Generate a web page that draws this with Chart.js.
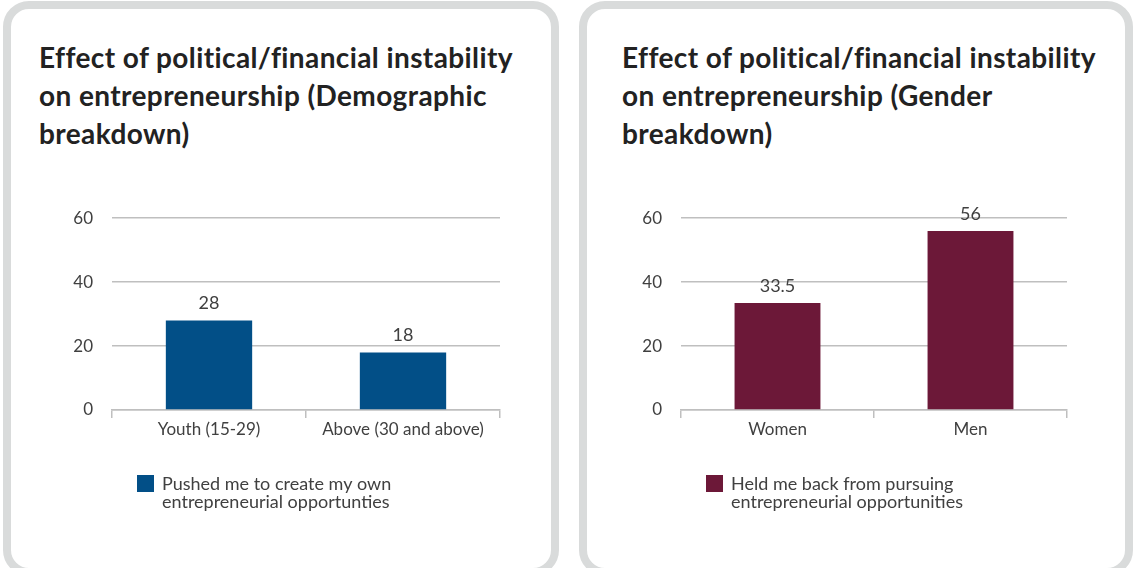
<!DOCTYPE html>
<html>
<head>
<meta charset="utf-8">
<script src="https://cdn.jsdelivr.net/npm/chart.js@4.4.1/dist/chart.umd.min.js"></script>
<style>
  html, body { margin: 0; padding: 0; background: #fff; }
  body { width: 1135px; height: 568px; position: relative; overflow: hidden; font-family: Lato, "Open Sans", sans-serif; }
  .panel {
    position: absolute; top: 1px; height: 575px; box-sizing: border-box;
    border: 8px solid #d9dbdb; border-radius: 26px; background: #fff;
  }
  .panel h2 {
    position: absolute; margin: 0; top: 29px;
    font-size: 28px; line-height: 38px; letter-spacing: 0.4px; font-weight: 700; color: #222;
  }
  .panel canvas { position: absolute; }
</style>
</head>
<body>
<div class="panel" style="left:3px; width:556px;">
  <h2 style="left:28px; width:490px;">Effect of political/financial instability on entrepreneurship (Demographic breakdown)</h2>
  <canvas id="ageChart" style="left:9px; top:180px;"></canvas>
</div>
<div class="panel" style="left:579px; width:554px;">
  <h2 style="left:35px; width:490px;">Effect of political/financial instability on entrepreneurship (Gender breakdown)</h2>
  <canvas id="genderChart" style="left:3px; top:180px;"></canvas>
</div>
<script>
// age breakdown
const ageGroups = ['Youth (15-29)', 'Above (30 and above)'];
const pushedShares = [28, 18];
const pushedLabel = ['Pushed me to create my own', 'entrepreneurial opportunties'];

// gender breakdown
const genders = ['Women', 'Men'];
const heldBackShares = [33.5, 56];
const heldBackLabel = ['Held me back from pursuing', 'entrepreneurial opportunities'];

const yTickValues = [0, 20, 40, 60];

const textColor = '#404040';
const gridColor = '#bfbfbf';

// value written above each bar
const barValues = {
  id: 'barValues',
  afterDatasetsDraw(chart) {
    const ctx = chart.ctx;
    ctx.save();
    ctx.font = '18px Lato';
    ctx.fillStyle = textColor;
    ctx.textAlign = 'center';
    ctx.textBaseline = 'alphabetic';
    chart.data.datasets.forEach((ds, i) => {
      chart.getDatasetMeta(i).data.forEach((bar, j) => {
        ctx.fillText(String(ds.data[j]), bar.x, bar.y - 11);
      });
    });
    ctx.restore();
  }
};

// two-line legend under the axis
const boxLegend = {
  id: 'boxLegend',
  afterDraw(chart) {
    const ctx = chart.ctx;
    const ds = chart.data.datasets[0];
    const x = chart.chartArea.left + 25;
    const y = chart.chartArea.bottom + 65;
    ctx.save();
    ctx.fillStyle = ds.backgroundColor;
    ctx.fillRect(x, y, 17, 17);
    ctx.font = '18px Lato';
    ctx.fillStyle = textColor;
    ctx.textBaseline = 'middle';
    ds.label.forEach((line, k) => {
      ctx.fillText(line, x + 25, y + 9 + k * 18);
    });
    ctx.restore();
  }
};

function makeChart(id, width, labels, values, label, color, pad, axisWidth) {
  const canvas = document.getElementById(id);
  canvas.width = width;
  canvas.height = 356;
  return new Chart(canvas, {
    type: 'bar',
    data: {
      labels: labels,
      datasets: [{
        label: label,
        data: values,
        backgroundColor: color,
        barPercentage: 0.445,
        categoryPercentage: 1
      }]
    },
    options: {
      responsive: false,
      animation: false,
      layout: { padding: { left: pad.left, right: pad.right, top: 26, bottom: 95 } },
      plugins: {
        legend: { display: false },
        tooltip: { enabled: false }
      },
      scales: {
        x: {
          offset: true,
          grid: { offset: true, drawOnChartArea: false, drawTicks: true, tickLength: 8, color: gridColor, lineWidth: 1.5 },
          border: { display: true, color: gridColor, width: 1.5 },
          ticks: { color: textColor, font: { family: 'Lato', size: 17 }, padding: 1, maxRotation: 0 },
          afterFit(scale) { scale.height = 40; }
        },
        y: {
          min: 0,
          max: 60,
          afterBuildTicks(scale) { scale.ticks = yTickValues.map(v => ({ value: v })); },
          grid: { drawTicks: false, color: gridColor, lineWidth: 1.5 },
          border: { display: false },
          ticks: { color: textColor, font: { family: 'Lato', size: 17 }, padding: 19 },
          afterFit(scale) { scale.width = axisWidth; }
        }
      }
    },
    plugins: [barValues, boxLegend]
  });
}

makeChart('ageChart', 490, ageGroups, pushedShares, pushedLabel, '#024f87', { left: 20, right: 10 }, 72);
makeChart('genderChart', 490, genders, heldBackShares, heldBackLabel, '#6c1838', { left: 23, right: 13 }, 68);
</script>
</body>
</html>
